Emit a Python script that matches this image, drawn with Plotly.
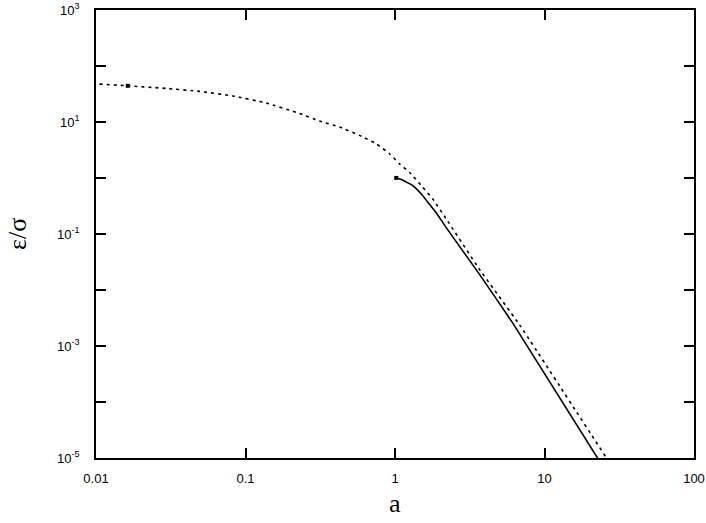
import plotly.graph_objects as go

# dashed curve (epsilon/sigma vs a)
dash_a = [0.01055, 0.01632, 0.02949, 0.04924, 0.0823, 0.1375, 0.2297, 0.3126,
          0.4255, 0.5788, 0.7484, 0.9187, 1.072, 1.250, 1.535, 1.790, 2.200,
          3.675, 6.805, 26.5]
dash_e = [47.5, 44.3, 39.8, 35.2, 29.2, 21.9, 14.2, 10.4,
          8.13, 5.77, 4.09, 2.71, 1.79, 1.266, 0.681, 0.4215, 0.1866,
          0.0233, 0.0024, 9.2e-6]

# solid curve
solid_a = [1.019, 1.10, 1.25, 1.316, 1.535, 1.70, 1.886, 2.200, 3.675, 6.138, 23.08]
solid_e = [1.004, 0.944, 0.794, 0.731, 0.483, 0.34, 0.240, 0.130, 0.0190, 0.00256, 9.2e-6]

# start markers
mark_a = [0.01632, 1.019]
mark_e = [44.3, 1.004]

x_tickvals = [0.01, 0.1, 1, 10, 100]
x_ticktext = ["0.01", "0.1", "1", "10", "100"]
y_powers = [-5, -4, -3, -2, -1, 0, 1, 2, 3]
y_tickvals = [10.0 ** p for p in y_powers]
y_ticktext = [f"10<sup>{p}</sup>" if p % 2 else "" for p in y_powers]

fig = go.Figure()
fig.add_trace(go.Scatter(x=dash_a, y=dash_e, mode="lines",
                         line=dict(color="black", width=1.6, dash="3px,4px", shape="spline", smoothing=0.3),
                         showlegend=False))
fig.add_trace(go.Scatter(x=solid_a, y=solid_e, mode="lines",
                         line=dict(color="black", width=1.6, shape="spline", smoothing=0.3),
                         showlegend=False))
fig.add_trace(go.Scatter(x=mark_a, y=mark_e, mode="markers",
                         marker=dict(symbol="square", size=4, color="black"),
                         showlegend=False))

font_sans = "Liberation Sans"
font_serif = "Liberation Serif"

axis_common = dict(type="log", showgrid=False, zeroline=False, showline=True,
                   linecolor="black", linewidth=1.5, mirror="ticks", ticks="inside",
                   ticklen=10, tickwidth=1.5, tickcolor="black", automargin=False,
                   tickfont=dict(family=font_sans, size=13, color="black"))

fig.update_xaxes(range=[-2, 2], tickvals=x_tickvals, ticktext=x_ticktext,
                 ticklabelstandoff=8, **axis_common)
fig.update_yaxes(range=[-5, 3], tickvals=y_tickvals, ticktext=y_ticktext,
                 ticklabelstandoff=12, **axis_common)

fig.add_annotation(text="ε/σ", xref="paper", yref="paper", x=0, y=0.5,
                   xanchor="center", yanchor="middle", xshift=-79, textangle=-90,
                   showarrow=False,
                   font=dict(family=font_serif, size=26, color="black"))
fig.add_annotation(text="a", xref="paper", yref="paper", x=0.5, y=0,
                   xanchor="center", yanchor="middle", yshift=-45,
                   showarrow=False,
                   font=dict(family=font_serif, size=26, color="black"))

fig.update_layout(width=706, height=523, margin=dict(l=96, r=12, t=10, b=65, autoexpand=False),
                  plot_bgcolor="white", paper_bgcolor="white")

fig.write_html("out.html", config={"displayModeBar": False},
               post_script="document.body.style.margin='0';document.body.style.overflow='hidden';")
